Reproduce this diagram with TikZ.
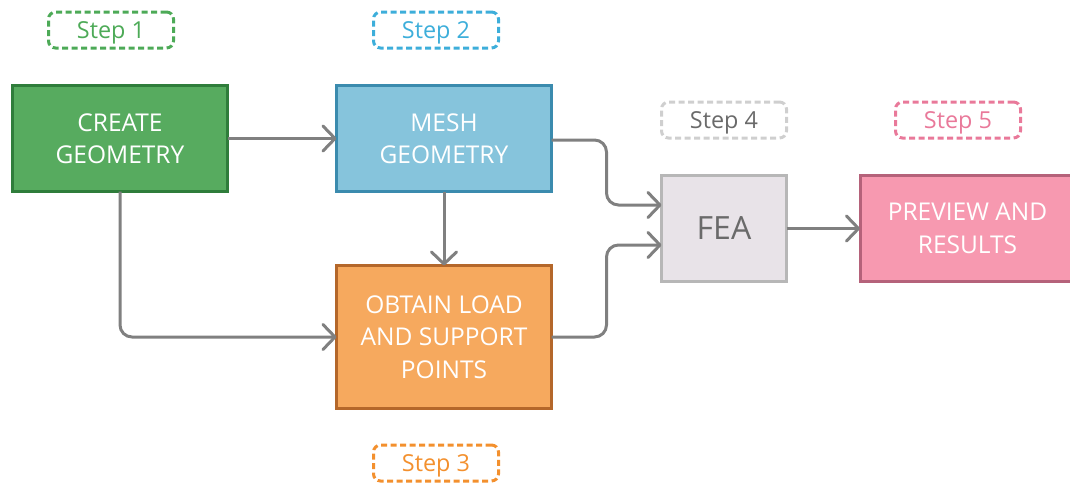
\documentclass[tikz,border=0pt]{standalone}
\usepackage{fontspec}
\setmainfont{Open Sans}
\usetikzlibrary{arrows.meta}

\definecolor{greenFill}{HTML}{57AB5F}
\definecolor{greenLine}{HTML}{2F7D3B}
\definecolor{blueFill}{HTML}{86C4DC}
\definecolor{blueLine}{HTML}{3B8BAE}
\definecolor{orangeFill}{HTML}{F6A95E}
\definecolor{orangeLine}{HTML}{B4672A}
\definecolor{greyFill}{HTML}{E8E3E8}
\definecolor{greyLine}{HTML}{B7B7B7}
\definecolor{pinkFill}{HTML}{F799B0}
\definecolor{pinkLine}{HTML}{B5627A}
\definecolor{connGrey}{HTML}{808080}
\definecolor{stepGreen}{HTML}{4DAA57}
\definecolor{stepBlue}{HTML}{3DAEDA}
\definecolor{stepOrange}{HTML}{F3902E}
\definecolor{stepGreyLine}{HTML}{CFCFCF}
\definecolor{stepGreyText}{HTML}{6A6A6A}
\definecolor{stepPink}{HTML}{E9799A}

\tikzset{
  procbox/.style={draw, line width=3pt, inner sep=0pt, outer sep=0pt,
    align=center, text=white, font=\fontsize{24.5}{32.5}\selectfont,
    minimum width=215pt, minimum height=106pt},
  steptag/.style={draw, dashed, dash pattern=on 6pt off 3.5pt, line width=3pt,
    rounded corners=7pt, inner sep=0pt, outer sep=0pt,
    minimum width=125pt, minimum height=36pt,
    text height=17pt, text depth=0pt,
    font=\fontsize{23.4}{26}\selectfont},
  conn/.style={draw=connGrey, line width=3pt, rounded corners=12pt,
    -{Straight Barb[length=12pt,width=25pt,line width=3pt,round]}},
}

\begin{document}
\begin{tikzpicture}[x=1pt,y=-1pt]
\useasboundingbox (0,0) rectangle (1070,482);

% process boxes
\node[procbox, fill=greenFill, draw=greenLine] (create) at (120,138.5) {CREATE\\GEOMETRY};
\node[procbox, fill=blueFill, draw=blueLine] (mesh) at (444,138.5) {MESH\\GEOMETRY};
\node[procbox, fill=orangeFill, draw=orangeLine, minimum height=143pt] (obtain) at (444,337) {OBTAIN LOAD\\AND SUPPORT\\POINTS};
\node[procbox, fill=greyFill, draw=greyLine, text=stepGreyText, minimum width=125pt,
  font=\fontsize{32}{36}\selectfont] (fea) at (724,228.5) {FEA};
\node[procbox, fill=pinkFill, draw=pinkLine] (preview) at (967.5,228.5) {PREVIEW AND\\RESULTS};

% step tags
\node[steptag, draw=stepGreen, text=stepGreen] (s1) at (111,30) {Step 1};
\node[steptag, draw=stepBlue, text=stepBlue] (s2) at (436,30) {Step 2};
\node[steptag, draw=stepOrange, text=stepOrange] (s3) at (436,463) {Step 3};
\node[steptag, draw=stepGreyLine, text=stepGreyText] (s4) at (724,120) {Step 4};
\node[steptag, draw=stepPink, text=stepPink] (s5) at (958,120) {Step 5};

% connectors
\draw[conn] (create) -- (mesh);
\draw[conn] (mesh) -- (obtain);
\draw[conn] (create.south) |- (obtain.west);
\draw[conn] ([yshift=-1.5pt]mesh.east) -- ++(55,0) |- ([yshift=23.5pt]fea.west);
\draw[conn] (obtain.east) -- ++(55,0) |- ([yshift=-16.5pt]fea.west);
\draw[conn] (fea) -- (preview);
\end{tikzpicture}
\end{document}
